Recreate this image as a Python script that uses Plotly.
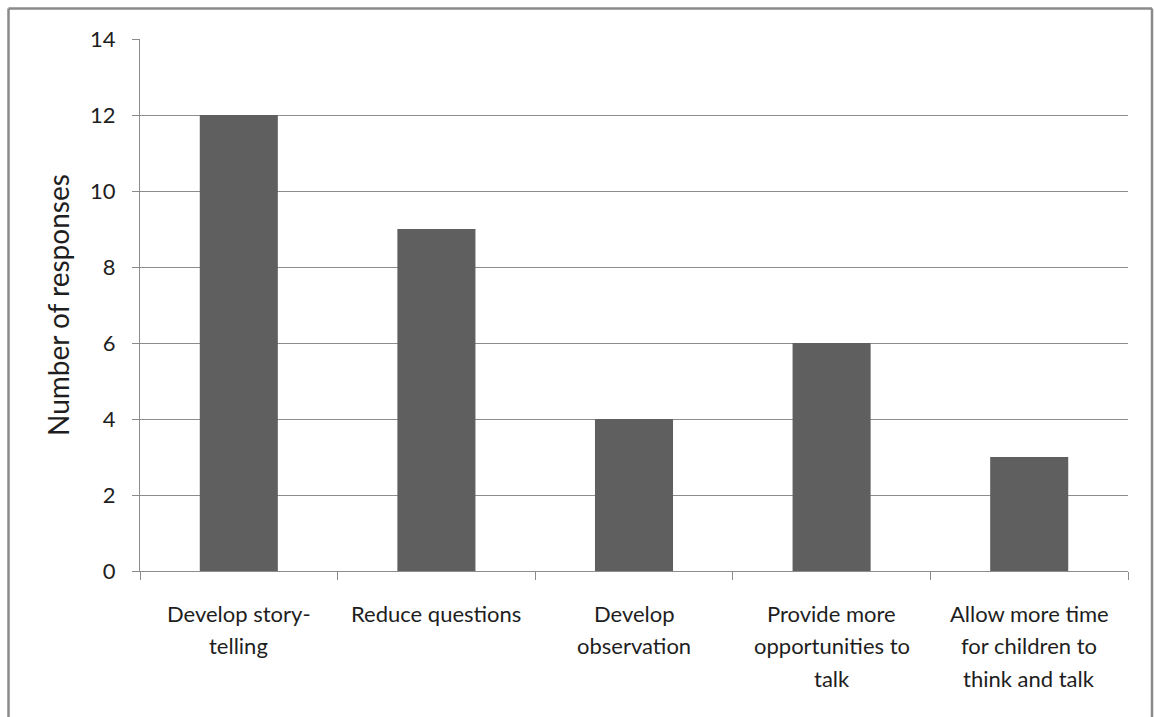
import plotly.graph_objects as go

# Survey results: suggested improvements and how many respondents gave each
categories = [
    "Develop story-telling",
    "Reduce questions",
    "Develop observation",
    "Provide more opportunities to talk",
    "Allow more time for children to think and talk",
]
label_lines = [
    ["Develop story-", "telling"],
    ["Reduce questions"],
    ["Develop", "observation"],
    ["Provide more", "opportunities to", "talk"],
    ["Allow more time", "for children to", "think and talk"],
]
responses = [12, 9, 4, 6, 3]
y_ticks = [0, 2, 4, 6, 8, 10, 12, 14]

FONT = "Lato, Carlito, 'Liberation Sans', sans-serif"
TEXT = "#1e1e1e"
GRID = "#8c8c8c"

W, H = 1154, 717
L, R, T, B = 140, 26, 39, 146
plot_w = W - L - R
plot_h = H - T - B

fig = go.Figure(
    go.Bar(
        x=categories,
        y=responses,
        marker=dict(color="#5f5f5f", line=dict(width=0)),
        hoverinfo="x+y",
    )
)

# Multi-line category labels with wide line spacing
annotations = []
for cat, lines in zip(categories, label_lines):
    for i, line in enumerate(lines):
        annotations.append(dict(
            x=cat, xref="x", y=0, yref="paper",
            text=line, showarrow=False,
            xanchor="center", yanchor="middle",
            yshift=-42 - 32.5 * i,
            font=dict(family=FONT, size=22, color=TEXT),
        ))

# Rotated y-axis title
annotations.append(dict(
    x=(58 - L) / plot_w, xref="paper", y=0.5, yref="paper",
    text="Number of responses", textangle=-90, showarrow=False,
    xanchor="center", yanchor="middle",
    font=dict(family=FONT, size=28, color=TEXT),
))

# Outer frame around the chart
def px_x(px):
    return (px - L) / plot_w

def px_y(py):
    return (H - B - py) / plot_h

frame = dict(color="#8a8a8a", width=2.5)
shapes = [
    dict(type="line", xref="paper", yref="paper",
         x0=px_x(8.5), x1=px_x(8.5), y0=px_y(8.5), y1=px_y(760), line=frame),
    dict(type="line", xref="paper", yref="paper",
         x0=px_x(8.5), x1=px_x(1152), y0=px_y(8.5), y1=px_y(8.5), line=frame),
    dict(type="line", xref="paper", yref="paper",
         x0=px_x(1152), x1=px_x(1152), y0=px_y(8.5), y1=px_y(760), line=frame),
]

fig.update_layout(
    width=W, height=H,
    margin=dict(l=L, r=R, t=T, b=B, pad=0),
    paper_bgcolor="white", plot_bgcolor="white",
    bargap=0.605,
    showlegend=False,
    annotations=annotations,
    shapes=shapes,
    font=dict(family=FONT, color=TEXT),
)

fig.update_xaxes(
    type="category",
    showticklabels=False,
    ticks="outside", ticklen=8, tickcolor=GRID, tickwidth=1,
    tickson="boundaries",
    showline=True, linecolor=GRID, linewidth=1,
    showgrid=False, zeroline=False,
    fixedrange=True,
)

fig.update_yaxes(
    range=[0, 14],
    tickvals=y_ticks,
    ticks="outside", ticklen=7, tickcolor=GRID, tickwidth=1,
    ticklabelstandoff=12,
    tickfont=dict(family=FONT, size=22, color=TEXT),
    showline=True, linecolor=GRID, linewidth=1,
    showgrid=True, gridcolor=GRID, gridwidth=1,
    zeroline=False,
    fixedrange=True,
)

fig.write_html("out.html", config={"displayModeBar": False})
